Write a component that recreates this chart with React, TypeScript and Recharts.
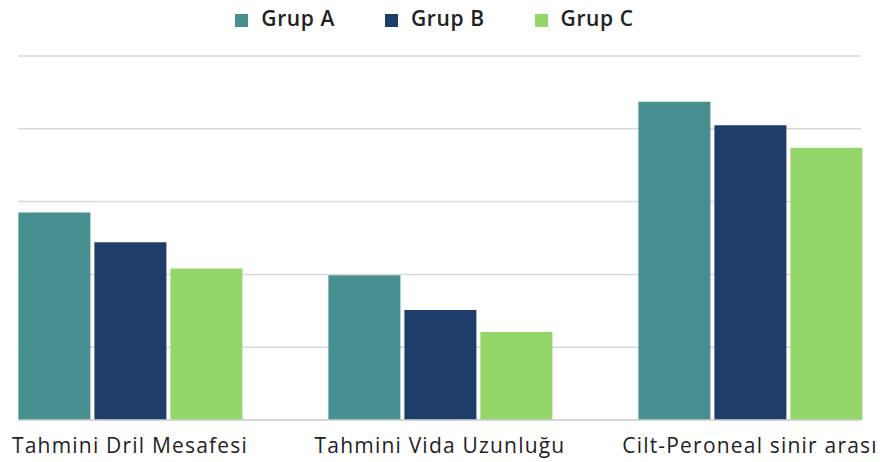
import React from 'react';
import { BarChart, Bar, XAxis, YAxis, CartesianGrid, Legend } from 'recharts';

const categories = ['Tahmini Dril Mesafesi', 'Tahmini Vida Uzunluğu', 'Cilt-Peroneal sinir arası'];
const grupA = [2.85, 1.99, 4.37];
const grupB = [2.44, 1.51, 4.05];
const grupC = [2.08, 1.21, 3.74];
const yTicks = [0, 1, 2, 3, 4, 5];

const COLORS = {
  a: '#48908f',
  b: '#1f3d6b',
  c: '#94d66a',
};

const data = categories.map((name, i) => ({
  name,
  'Grup A': grupA[i],
  'Grup B': grupB[i],
  'Grup C': grupC[i],
}));

const FONT = '"Open Sans", "DejaVu Sans", sans-serif';

const App: React.FC = () => {
  return (
    <div style={{ width: 871, height: 454, fontFamily: FONT, background: '#fff' }}>
      <BarChart
        width={871}
        height={454}
        data={data}
        margin={{ top: 20, right: 18, bottom: 0, left: 10 }}
        barCategoryGap="14%"
        barGap={4}
      >
        <CartesianGrid vertical={false} stroke="#d9d9d9" strokeWidth={1.5} />
        <XAxis
          dataKey="name"
          padding={{ left: -43, right: -44 }}
          axisLine={{ stroke: '#d0d0d0', strokeWidth: 1.5 }}
          tickLine={false}
          height={42}
          interval={0}
          fontSize={21}
          tick={{ fill: '#222', fontSize: 21, fontFamily: FONT, fontWeight: 500, letterSpacing: 1.2 }}
          tickMargin={12}
        />
        <YAxis hide domain={[0, 5]} ticks={yTicks} />
        <Legend
          verticalAlign="top"
          align="center"
          iconType="square"
          iconSize={13}
          wrapperStyle={{ top: -4, fontSize: 21, fontWeight: 600, letterSpacing: 0.6 }}
          formatter={(value, _entry, index) => (
            <span style={{ color: '#222', marginLeft: 9, marginRight: index === 2 ? 0 : 40 }}>{value}</span>
          )}
        />
        <Bar dataKey="Grup A" fill={COLORS.a} isAnimationActive={false} />
        <Bar dataKey="Grup B" fill={COLORS.b} isAnimationActive={false} />
        <Bar dataKey="Grup C" fill={COLORS.c} isAnimationActive={false} />
      </BarChart>
    </div>
  );
};

export default App;
